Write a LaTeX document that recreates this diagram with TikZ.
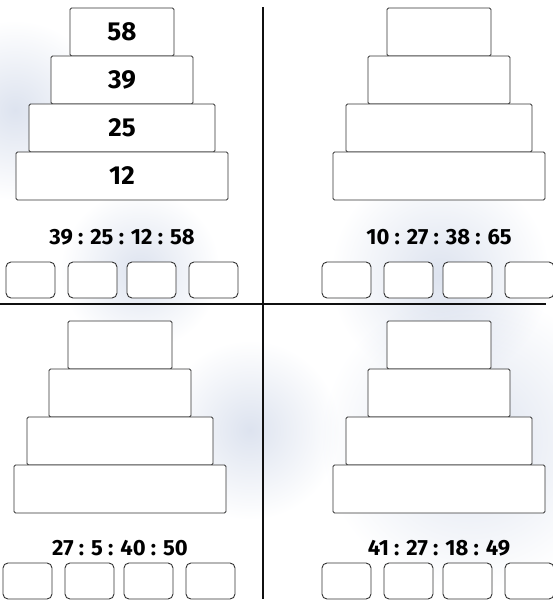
\documentclass[tikz,border=0pt]{standalone}
\usepackage{fontspec}
\setmainfont{Fira Sans}
\definecolor{boxline}{HTML}{333333}
\definecolor{rule}{HTML}{101010}
\definecolor{wash}{HTML}{DDE3EF}

\begin{document}
\begin{tikzpicture}[x=1pt,y=-1pt,
  layer/.style={draw=boxline,line width=0.9pt,rounded corners=1.5pt,fill=white,
    minimum height=48pt,inner sep=0pt},
  num/.style={font=\bfseries\fontsize{26}{26}\selectfont},
  seq/.style={font=\bfseries\fontsize{22}{22}\selectfont},
  answer/.style={draw=boxline,line width=0.9pt,rounded corners=5pt,fill=white,
    minimum width=49pt,minimum height=36pt,inner sep=0pt},
  divider/.style={draw=rule,line width=1.8pt},
  blot/.style={inner color=wash,outer color=white}]
\useasboundingbox (0,0) rectangle (552,605);
% faint watercolour wash behind the sheet
\begin{scope}[blend mode=multiply]
\shade[blot] (470,440) circle (150);
\shade[blot] (15,110) circle (90);
\shade[blot] (440,275) circle (110);
\shade[blot] (250,430) circle (90);
\shade[blot] (140,270) circle (80);
\end{scope}
% four towers: centre, top, sequence line, answer row
\foreach \q/\cx/\ty/\sy/\bx/\by/\txt in {a/122/8/237/6/262/{39 : 25 : 12 : 58},
    b/439/8/237/322/262/{10 : 27 : 38 : 65},
    c/120/321/548/3/563/{27 : 5 : 40 : 50},
    d/439/321/548/322/563/{41 : 27 : 18 : 49}} {
  \foreach \i/\w in {1/104,2/142,3/186,4/212}
    \node[layer,minimum width=\w pt] (\q-\i) at (\cx,\ty+48*\i-24) {};
  \node[seq] (\q-seq) at (\cx,\sy) {\txt};
  \foreach \j/\dx in {1/0,2/62,3/121,4/183}
    \node[answer] (\q-ans\j) at (\bx+\dx+24.5,\by+18) {};
}
% numbers of the first tower
\foreach \i/\n in {1/58,2/39,3/25,4/12}
  \node[num] (a-\i-n) at (a-\i) {\n};
% dividing lines
\draw[divider] (263,7) -- (263,599);
\draw[divider] (0,304) -- (546,304);
\end{tikzpicture}
\end{document}
